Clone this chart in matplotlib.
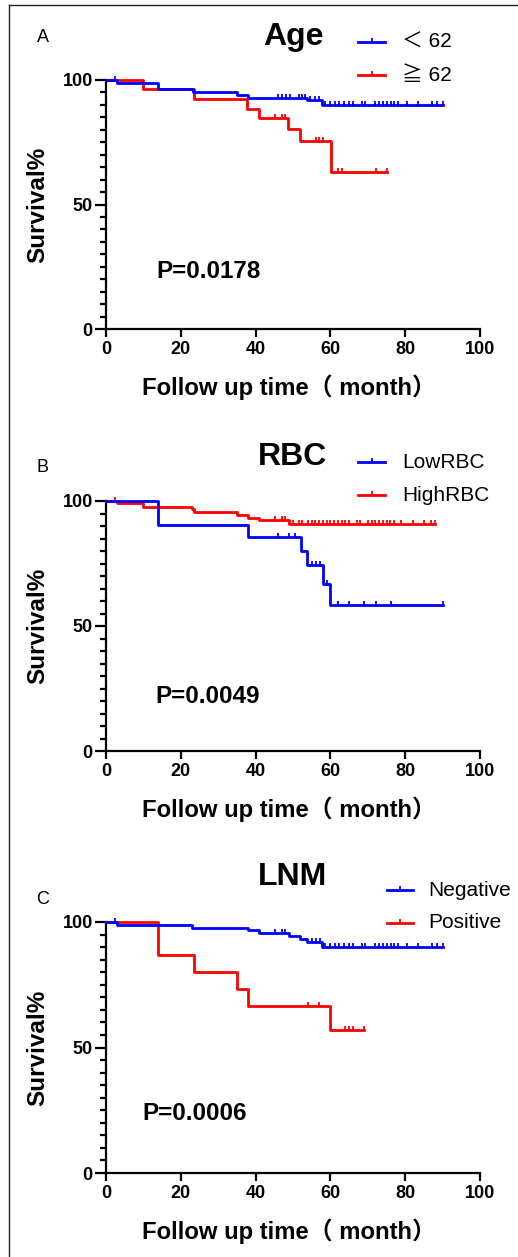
import numpy as np
import matplotlib.pyplot as plt
from matplotlib.lines import Line2D
from matplotlib.ticker import MultipleLocator

plt.rcParams['font.family'] = ['Liberation Sans', 'Noto Sans CJK SC']

# ---- data ----
panel_letters = ['A', 'B', 'C']
panel_titles = ['Age', 'RBC', 'LNM']
p_values = ['P=0.0178', 'P=0.0049', 'P=0.0006']
group_names = [['＜ 62', '≧ 62'], ['LowRBC', 'HighRBC'], ['Negative', 'Positive']]

# Age
age_low_t = [0, 3, 14, 23.3, 35, 38, 53.7, 57.7]
age_low_s = [100, 98.9, 96.5, 95.2, 94.0, 92.9, 91.8, 89.8]
age_low_c = [2.5, 46, 47, 48, 49.2, 51.5, 52.3, 53.2, 54.5, 55.9, 57.0,
             58.6, 59.9, 61.1, 62.4, 63.6, 64.9, 66.1, 68.4, 69.3, 71.9, 72.9,
             74.0, 75.0, 76.1, 77.1, 78.2, 80.4, 83.5, 87.1, 88.4, 90.2]
age_high_t = [0, 10, 23.6, 37.8, 40.8, 48.6, 51.9, 60.2]
age_high_s = [100, 96.5, 92.5, 88.5, 84.9, 80.2, 75.5, 63.1]
age_high_c = [45.2, 47.0, 47.9, 56.1, 57.0, 57.9, 62.1, 63.0, 72.2, 75.0]

# RBC
rbc_low_t = [0, 14, 38, 52.1, 53.7, 58.1, 59.9]
rbc_low_s = [100, 90.5, 85.7, 79.9, 74.3, 66.9, 58.5]
rbc_low_c = [46.1, 48.8, 50.5, 55.0, 56.1, 57.2, 59.0, 62.1, 65.1, 69.1, 72.2, 76.2, 90.2]
rbc_high_t = [0, 2.9, 10, 22.9, 23.6, 34.9, 38, 40.8, 48.8]
rbc_high_s = [100, 99.1, 97.7, 96.7, 95.6, 94.4, 93.3, 92.4, 91.0]
rbc_high_c = [2.5, 45.2, 47.0, 47.9, 50, 51.5, 52.5, 54, 55, 56, 57, 58, 59, 60, 61,
              62, 63, 64, 65, 67, 68, 70, 71, 72, 73, 74, 75, 76, 77, 79, 82, 85, 87, 88]

# LNM
lnm_neg_t = [0, 3, 22.9, 38, 40.8, 48.8, 51.9, 53.7, 57.8]
lnm_neg_s = [100, 98.9, 97.6, 96.7, 95.6, 94.4, 93.3, 92.2, 90.0]
lnm_neg_c = [2.5, 45.2, 47.0, 47.9, 55.0, 56.1, 57.2,
             58.6, 59.9, 61.1, 62.4, 63.6, 64.9, 66.1, 68.4, 69.3, 71.9, 72.9,
             74.0, 75.0, 76.1, 77.1, 78.2, 80.4, 83.5, 87.1, 88.4, 90.2]
lnm_pos_t = [0, 13.8, 23.6, 35.1, 38, 59.9]
lnm_pos_s = [100, 86.7, 80.0, 73.3, 66.7, 57.1]
lnm_pos_c = [54.1, 57.0, 63.9, 65.1, 66.1, 69.1]

curves = [
    [(age_low_t, age_low_s, age_low_c), (age_high_t, age_high_s, age_high_c)],
    [(rbc_low_t, rbc_low_s, rbc_low_c), (rbc_high_t, rbc_high_s, rbc_high_c)],
    [(lnm_neg_t, lnm_neg_s, lnm_neg_c), (lnm_pos_t, lnm_pos_s, lnm_pos_c)],
]
colors = ['#0000FF', '#FF0000']

# ---- layout (pixels of a 518x1257 canvas) ----
W, H = 518, 1257
def fx(x): return x / W
def fy(y): return 1 - y / H

ax_top = [80, 501, 922]
ax_bot = [329, 751, 1173]
letter_y = [37, 468, 900]
title_y = [37, 457, 877]
leg_rows = [[42, 75], [462, 495], [890, 923]]
leg_x = [(358, 385, 402), (358, 385, 402), (387, 413, 428)]
p_pos = [(13.6, 22.9), (13.1, 21.6), (9.6, 23.9)]

fig = plt.figure(figsize=(W / 100, H / 100), dpi=100)

# frame of the original figure box (top and left edges visible)
fig.add_artist(Line2D([fx(9), 1.0], [fy(5), fy(5)], color='#222222', lw=1.0))
fig.add_artist(Line2D([fx(9), fx(9)], [fy(5), 0.0], color='#222222', lw=1.0))

for i in range(3):
    ax = fig.add_axes([fx(106), fy(ax_bot[i]), fx(480) - fx(106),
                       fy(ax_top[i]) - fy(ax_bot[i])])
    # blue drawn last so it sits on top
    for j in [1, 0]:
        t, s, c = curves[i][j]
        t = np.array(t, dtype=float)
        s = np.array(s, dtype=float)
        c = np.array(c, dtype=float)
        tt = np.append(t, c.max())
        ss = np.append(s, s[-1])
        ax.step(tt, ss, where='post', color=colors[j], lw=2.0, clip_on=False,
                zorder=3 + (1 - j))
        cy = s[np.searchsorted(t, c, side='right') - 1]
        ax.plot(c, cy, ls='none', marker=2, markersize=3.2, mew=1.3,
                color=colors[j], clip_on=False, zorder=3 + (1 - j))

    ax.set_xlim(0, 100)
    ax.set_ylim(0, 100)
    ax.set_xticks(np.arange(0, 101, 20))
    ax.set_yticks([0, 50, 100])
    ax.yaxis.set_minor_locator(MultipleLocator(5))
    for side in ['top', 'right']:
        ax.spines[side].set_visible(False)
    for side in ['left', 'bottom']:
        ax.spines[side].set_linewidth(1.6)
    ax.tick_params(axis='x', which='major', length=6, width=1.6, pad=3)
    ax.tick_params(axis='y', which='major', length=8, width=1.6, pad=1.5)
    ax.tick_params(axis='y', which='minor', length=4.5, width=1.6)
    for lab in ax.get_xticklabels() + ax.get_yticklabels():
        lab.set_fontweight('bold')
        lab.set_fontsize(13)

    ax.text(p_pos[i][0], p_pos[i][1], p_values[i], fontsize=17.5,
            fontweight='bold', ha='left', va='center')

    fig.text(fx(43), fy(letter_y[i]), panel_letters[i], fontsize=13,
             ha='center', va='center')
    fig.text(fx(293), fy(title_y[i]), panel_titles[i], fontsize=23,
             fontweight='bold', ha='center', va='center')
    fig.text(fx(289), fy(ax_bot[i] + 58), 'Follow up time（ month）',
             fontsize=17.2, fontweight='bold', ha='center', va='center')
    fig.text(fx(38), fy((ax_top[i] + ax_bot[i]) / 2), 'Survival%',
             fontsize=17.5, fontweight='bold', rotation=90,
             ha='center', va='center')

    # legend: short line with a censor tick, then the group name
    x0, x1, xt = leg_x[i]
    for j in range(2):
        yy = fy(leg_rows[i][j])
        fig.add_artist(Line2D([fx(x0), fx(x1)], [yy, yy], color=colors[j], lw=2.0))
        fig.add_artist(Line2D([fx((x0 + x1) / 2)], [yy], color=colors[j],
                              marker=2, markersize=3.2, mew=1.3, ls='none'))
        fig.text(fx(xt), yy, group_names[i][j], fontsize=15,
                 ha='left', va='center')

fig.savefig('out.png', dpi=100)
